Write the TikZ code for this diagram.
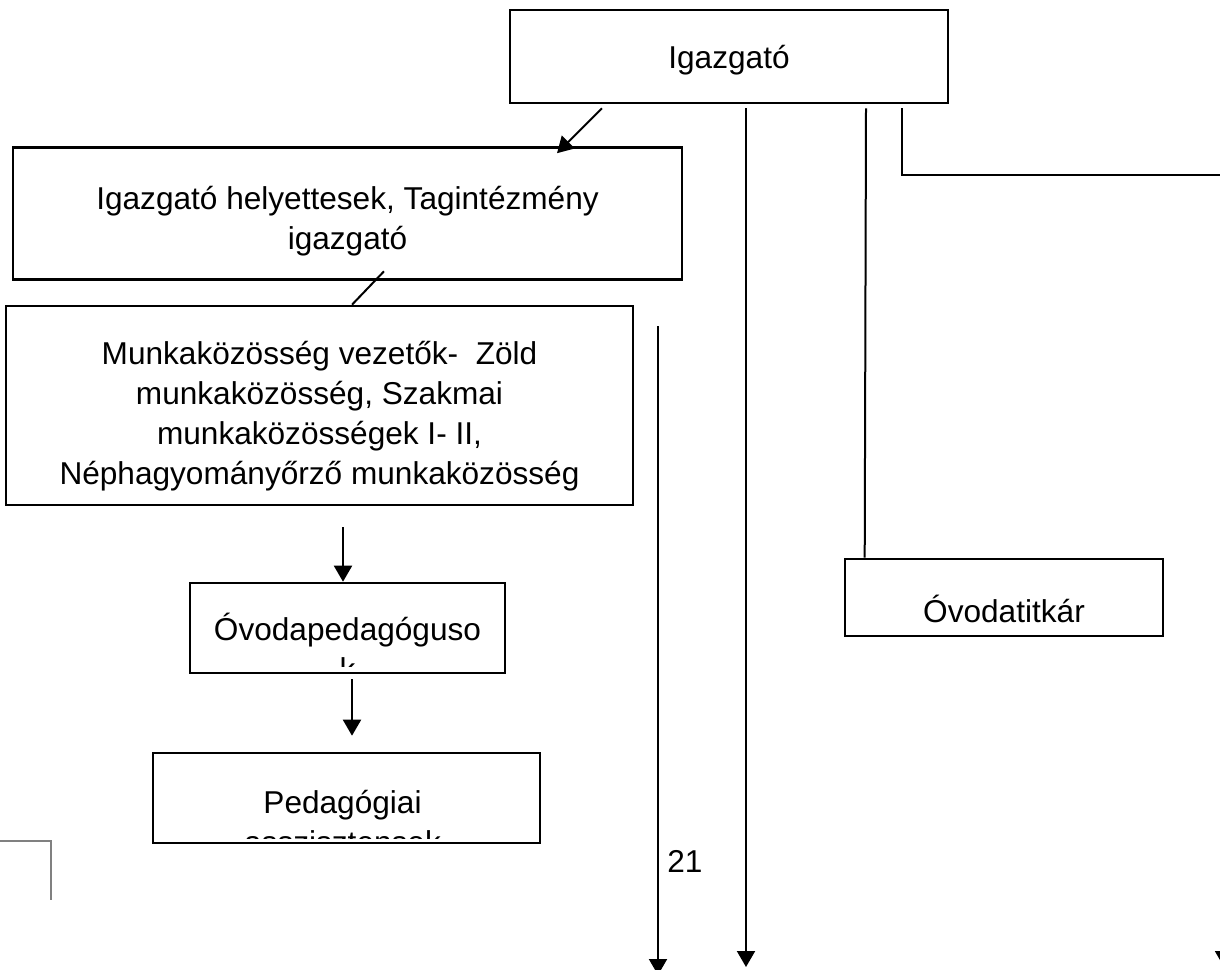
\documentclass[tikz,border=0pt]{standalone}
\usepackage{fontspec}
\setmainfont{Liberation Sans}
\usepackage{tikz}
\usetikzlibrary{arrows.meta,calc}

\begin{document}
\begin{tikzpicture}[
    x=0.5pt, y=-0.5pt,
    box/.style={rectangle, draw, line width=1.3pt, align=center, inner sep=0pt, font=\fontsize{15.8pt}{20pt}\selectfont},
    boxtext/.style={align=center, inner sep=0pt, anchor=north, font=\fontsize{15.8pt}{20pt}\selectfont},
    link/.style={line width=1pt},
    arrow/.style={-{Triangle[length=8pt,width=9pt]}, line width=1pt}
]
\useasboundingbox (0,0) rectangle (1220,969);

\node[box, minimum width=219pt, minimum height=46.5pt, text height=15.7pt] (boss) at (729,56.5) {Igazgató};
\node[box, minimum width=334.5pt, minimum height=66pt, text height=39.7pt] (deputy) at (347.5,213.5) {Igazgató helyettesek, Tagintézmény\\igazgató};
\node[box, minimum width=313.5pt, minimum height=99.5pt, text height=81.8pt] (leaders) at (319.5,405.5) {Munkaközösség vezetők-~ Zöld\\munkaközösség, Szakmai\\munkaközösségek I- II,\\Néphagyományőrző munkaközösség};
\node[box, minimum width=157.5pt, minimum height=45pt,
    path picture={\clip (path picture bounding box.north west) rectangle ($(path picture bounding box.south east)+(0,-7)$);
        \node[boxtext] (teacherstext) at ($(path picture bounding box.north)+(0,17)$) {Óvodapedagóguso\\k};}] (teachers) at (347.5,628) {};
\node[box, minimum width=193.5pt, minimum height=45pt,
    path picture={\clip (path picture bounding box.north west) rectangle ($(path picture bounding box.south east)+(0,-5)$);
        \node[boxtext] (assistantstext) at ($(path picture bounding box.north)+(-4,23)$) {Pedagógiai\\asszisztensek};}] (assistants) at (346.5,798) {};
\node[box, minimum width=159pt, minimum height=38.5pt, text height=25pt] (secretary) at (1004,597.5) {Óvodatitkár};

\node[anchor=base west, inner sep=0pt, font=\fontsize{15.8pt}{20pt}\selectfont] (pagenum) at (667,872) {21};

\coordinate (bossdown) at (746,967);
\coordinate (rightedge) at (1222,175);
\coordinate (sidetop) at (658,326);
\coordinate (sidebottom) at (658,975);
\coordinate (offpage) at (1224,900);
\coordinate (offpagetip) at (1224,967);

\draw[arrow] ($(boss.south)+(-127,4)$) -- ($(deputy.north)+(209.5,7)$);
\draw[link] ($(deputy.south)+(36.5,-9.5)$) -- ($(leaders.north)+(32.5,0)$);
\draw[arrow] ($(boss.south)+(17,4)$) -- (bossdown);
\draw[link] ($(boss.south)+(137,4)$) -- ($(secretary.north west)+(21,0)$);
\draw[link] ($(boss.south)+(173,4)$) |- (rightedge);
\draw[arrow] (sidetop) -- (sidebottom);
\draw[arrow] ($(leaders.south)+(23.5,21)$) -- ($(teachers.north)+(-4.5,0)$);
\draw[arrow] ($(teachers.south)+(4.5,5)$) -- ($(assistants.north)+(5.5,-16)$);
\draw[arrow] (offpage) -- (offpagetip);

\draw[gray, line width=1pt] (0,841) -- (51,841) -- (51,900);
\end{tikzpicture}
\end{document}
